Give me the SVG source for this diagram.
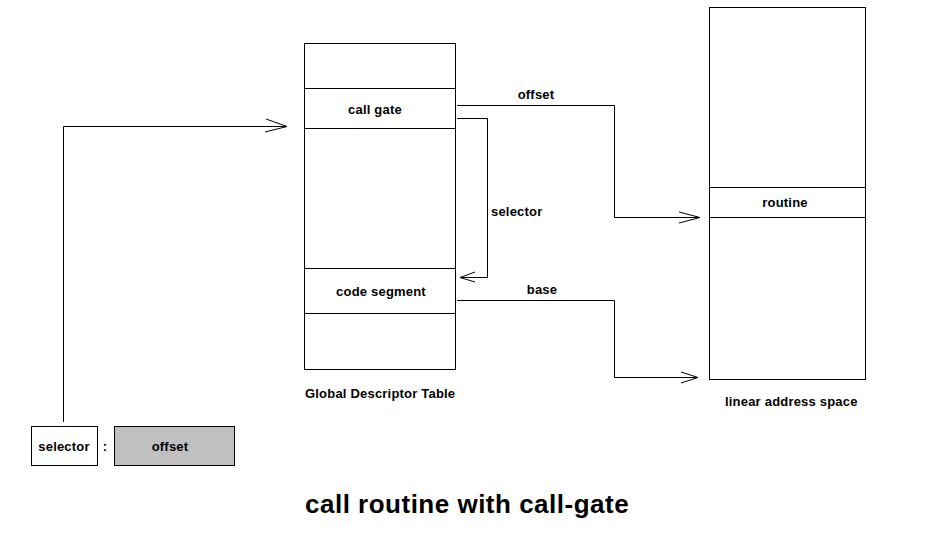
<svg xmlns="http://www.w3.org/2000/svg" width="927" height="544" viewBox="0 0 927 544">
<style>
.box{fill:#fff;stroke:#000;stroke-width:1}
.ln{fill:none;stroke:#000;stroke-width:1}
.t{font-family:"Liberation Sans",Arial,sans-serif;font-weight:bold;font-size:13px;letter-spacing:0.2px;fill:#000}
.title{font-family:"Liberation Sans",Arial,sans-serif;font-weight:bold;font-size:26px;letter-spacing:0.5px;fill:#000}
</style>
<rect width="927" height="544" fill="#fff"/>
<g id="gdt">
<rect class="box" x="304.5" y="43.5" width="151" height="326"/>
<line class="ln" x1="304.5" y1="88.5" x2="455.5" y2="88.5"/>
<line class="ln" x1="304.5" y1="128.5" x2="455.5" y2="128.5"/>
<line class="ln" x1="304.5" y1="268.5" x2="455.5" y2="268.5"/>
<line class="ln" x1="304.5" y1="313.5" x2="455.5" y2="313.5"/>
<text class="t" x="375" y="114" text-anchor="middle">call gate</text>
<text class="t" x="381" y="296" text-anchor="middle">code segment</text>
<text class="t" x="305" y="398">Global Descriptor Table</text>
</g>
<g id="linear">
<rect class="box" x="709.5" y="7.5" width="156" height="372"/>
<line class="ln" x1="709.5" y1="187.5" x2="865.5" y2="187.5"/>
<line class="ln" x1="709.5" y1="217.5" x2="865.5" y2="217.5"/>
<text class="t" x="785" y="207" text-anchor="middle">routine</text>
<text class="t" x="725" y="406">linear address space</text>
</g>
<g id="selector-box">
<rect class="box" x="31.5" y="426.5" width="66" height="39"/>
<text class="t" x="64" y="451" text-anchor="middle">selector</text>
</g>
<g id="colon"><text class="t" x="105" y="451" text-anchor="middle">:</text></g>
<g id="offset-box">
<rect x="114.5" y="426.5" width="120" height="39" fill="#c0c0c0" stroke="#000"/>
<text class="t" x="170" y="451" text-anchor="middle">offset</text>
</g>
<g id="connectors">
<polyline class="ln" points="63.5,422 63.5,126.5 287,126.5"/>
<polyline class="ln" points="266,119 287,126.5 265,132"/>
<polyline class="ln" points="457,105.5 614.5,105.5 614.5,217.5 700,217.5"/>
<polyline class="ln" points="679,212 700,217.5 679,223"/>
<polyline class="ln" points="457,118.5 487.5,118.5 487.5,277.5 460,277.5"/>
<polyline class="ln" points="475,272 460,277.5 475,282"/>
<polyline class="ln" points="457,300.5 614.5,300.5 614.5,377.5 698,377.5"/>
<polyline class="ln" points="681,372 698,377.5 681,383"/>
<text class="t" x="536" y="99" text-anchor="middle">offset</text>
<text class="t" x="491" y="216">selector</text>
<text class="t" x="542" y="294" text-anchor="middle">base</text>
</g>
<g id="title"><text class="title" x="305" y="513">call routine with call-gate</text></g>
</svg>
